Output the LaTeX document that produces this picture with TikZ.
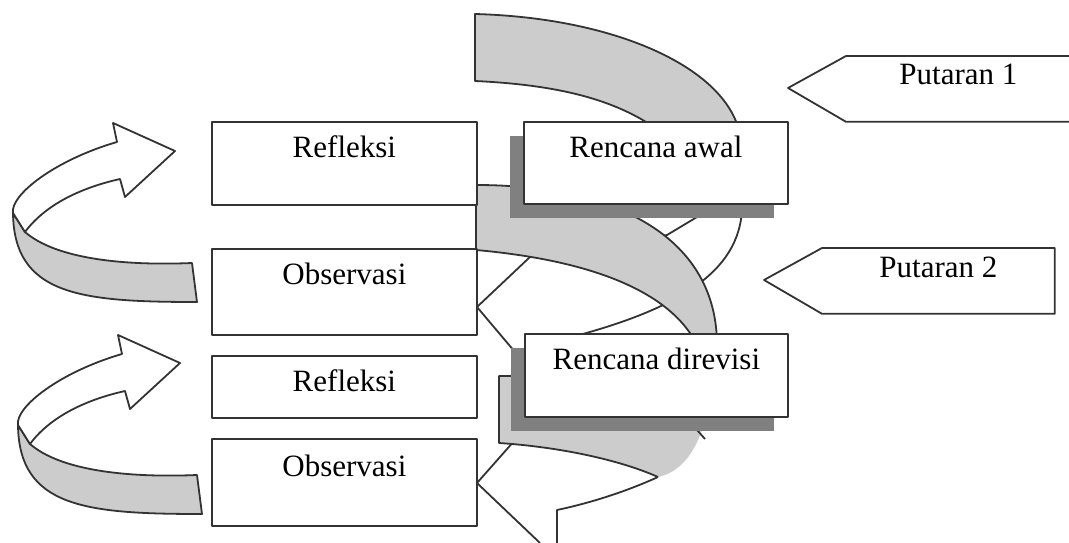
\documentclass[tikz,border=0pt]{standalone}
\usepackage{fontspec}
\setmainfont{Liberation Serif}
\usetikzlibrary{shadows}

\begin{document}
\begin{tikzpicture}[
		x=1pt, y=-1pt,
		line width=1.8pt,
		line join=round,
		draw=black!80,
		every node/.style={
				font=\fontsize{31}{36}\selectfont,
				inner sep=0pt,
				anchor=north west
			},
		stage/.style={
				draw, fill=white,
				text height=36pt % baseline below the top edge
			},
		plan/.style={
				stage,
				drop shadow={shadow xshift=-14pt, shadow yshift=-14pt, opacity=1, fill=black!50}
			},
		band/.style={draw, fill=black!20}
	]
	\useasboundingbox (0,0) rectangle (1069,543);

	% left turning arrows
	\foreach \dx/\dy in {0/0, 5/212} {
		\begin{scope}[shift={(\dx,\dy)}]
			\draw[band] (13,213) .. controls (14,295) and (80,302) .. (197,302) -- (192,263)
			.. controls (120,266) and (55,258) .. (25,232) -- cycle;
			\draw[fill=white] (117,142) -- (113,123) -- (175,151) -- (125,197) -- (120,179)
			.. controls (80,188) and (45,205) .. (25,232) -- (13,213)
			.. controls (10,195) and (55,160) .. (117,142) -- cycle;
		\end{scope}
	}

	% spiral, first turn
	\draw[band] (475,14) .. controls (620,18) and (728,70) .. (740,135)
	-- (665,135) .. controls (620,100) and (560,85) .. (475,81) -- cycle;
	\draw[fill=white] (742,200) .. controls (745,270) and (680,310) .. (560,340)
	-- (515,352) -- (477,307) -- (530,257) -- (667,235) -- (712,208) -- cycle;
	\draw[band] (476,185) .. controls (620,185) and (717,240) .. (717,345)
	-- (697,345) .. controls (675,300) and (610,262) .. (476,250) -- cycle;

	% spiral, second turn
	\draw (515,440) -- (477,483) -- (540,543);
	\draw (658,477) .. controls (625,492) and (590,503) .. (557,510) -- (557,543);
	\fill[black!20] (499,376) -- (560,376) -- (705,420)
	.. controls (697,450) and (682,472) .. (658,477)
	.. controls (620,460) and (560,447) .. (499,443) -- cycle;
	\draw (515,376) -- (499,376) -- (499,443) .. controls (560,447) and (620,460) .. (658,477);
	\draw (697,430) -- (705,439);

	% stages
	\node[stage, minimum width=265pt, text depth=47pt] (refl1) at (211,121) {Refleksi};
	\node[stage, minimum width=265pt, text depth=50pt] (obs1) at (211,248) {Observasi};
	\node[stage, minimum width=265pt, text depth=26pt] (refl2) at (211,355) {Refleksi};
	\node[stage, minimum width=265pt, text depth=49pt, text height=38pt] (obs2) at (211,438) {Observasi};

	\node[plan, minimum width=264pt, text depth=46pt] (awal) at (523,121) {Rencana awal};
	\node[plan, minimum width=263pt, text depth=47pt] (revisi) at (524,333) {Rencana direvisi};

	% turn labels
	\node[minimum width=223pt, text height=28pt, text depth=36pt] (put1) at (846,56) {Putaran 1};
	\draw (put1.north east) -- (put1.north west) -- ++(-58,32) -- (put1.south west) -- (put1.south east);

	\node[minimum width=231pt, text height=29pt, text depth=35pt] (put2) at (822,248) {Putaran 2};
	\draw (put2.north west) -- ++(-58,32) -- (put2.south west) -- (put2.south east)
	-- (put2.north east) -- cycle;

\end{tikzpicture}
\end{document}
